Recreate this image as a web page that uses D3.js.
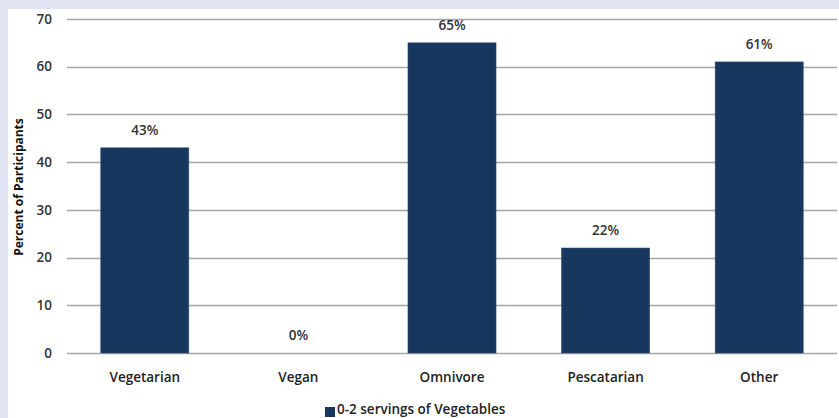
<!DOCTYPE html>
<html>
<head>
<meta charset="utf-8">
<script src="https://cdn.jsdelivr.net/npm/d3@7"></script>
<style>
  body { margin: 0; }
  svg { display: block; font-family: "Open Sans", sans-serif; }
</style>
</head>
<body>
<script>
const width = 839;
const height = 418;

const categories = ['Vegetarian', 'Vegan', 'Omnivore', 'Pescatarian', 'Other'];
const values = [43, 0, 65, 22, 61];
const yTicks = [0, 10, 20, 30, 40, 50, 60, 70];
const seriesName = '0-2 servings of Vegetables';

const barColor = '#17375e';
const textColor = '#333';

const margin = { top: 19, right: 3, bottom: 65, left: 68 };

const x = d3.scaleBand()
  .domain(categories)
  .range([margin.left, width - margin.right])
  .paddingInner(0.427)
  .paddingOuter(0.2135);

const y = d3.scaleLinear()
  .domain([0, 70])
  .range([height - margin.bottom, margin.top]);

const svg = d3.select('body')
  .append('svg')
  .attr('width', width)
  .attr('height', height);

// lavender frame, white panel
svg.append('rect')
  .attr('width', width)
  .attr('height', height)
  .attr('fill', '#e0e3f2');

svg.append('rect')
  .attr('x', 8)
  .attr('y', 9)
  .attr('width', width - 8)
  .attr('height', height - 9)
  .attr('fill', '#fff');

// gridlines
svg.append('g')
  .selectAll('line')
  .data(yTicks)
  .join('line')
    .attr('x1', margin.left - 1)
    .attr('x2', width - 2)
    .attr('y1', d => Math.round(y(d)) + 0.5)
    .attr('y2', d => Math.round(y(d)) + 0.5)
    .attr('stroke', '#a6a6a6')
    .attr('stroke-width', 1.5);

// y axis labels
svg.append('g')
  .attr('font-size', 13.5)
  .attr('font-weight', 600)
  .attr('fill', textColor)
  .attr('text-anchor', 'end')
  .selectAll('text')
  .data(yTicks)
  .join('text')
    .attr('x', 52)
    .attr('y', d => y(d))
    .attr('dy', '0.35em')
    .text(d => d);

svg.append('text')
  .attr('transform', `translate(23,${(y(0) + y(70)) / 2 + 1}) rotate(-90)`)
  .attr('text-anchor', 'middle')
  .attr('font-size', 12)
  .attr('font-weight', 'bold')
  .attr('fill', '#111')
  .text('Percent of Participants');

// bars
const data = categories.map((c, i) => ({ category: c, value: values[i] }));

svg.append('g')
  .selectAll('rect')
  .data(data)
  .join('rect')
    .attr('x', d => x(d.category))
    .attr('y', d => y(d.value))
    .attr('width', x.bandwidth())
    .attr('height', d => y(0) - y(d.value))
    .attr('fill', barColor)
    .attr('stroke', '#2c4a72')
    .attr('stroke-width', 0.6);

// value labels
svg.append('g')
  .attr('font-size', 13.5)
  .attr('font-weight', 600)
  .attr('fill', textColor)
  .attr('text-anchor', 'middle')
  .selectAll('text')
  .data(data)
  .join('text')
    .attr('x', d => x(d.category) + x.bandwidth() / 2)
    .attr('y', d => y(d.value) - 13)
    .text(d => d.value + '%');

// category labels
svg.append('g')
  .attr('font-size', 13.5)
  .attr('font-weight', 600)
  .attr('fill', '#222')
  .attr('text-anchor', 'middle')
  .selectAll('text')
  .data(categories)
  .join('text')
    .attr('x', d => x(d) + x.bandwidth() / 2)
    .attr('y', 382)
    .text(d => d);

// legend
const legend = svg.append('g');
legend.append('rect')
  .attr('x', 325)
  .attr('y', 407)
  .attr('width', 10)
  .attr('height', 10)
  .attr('fill', barColor);
legend.append('text')
  .attr('x', 337)
  .attr('y', 414)
  .attr('font-size', 13.5)
  .attr('font-weight', 600)
  .attr('fill', '#222')
  .text(seriesName);
</script>
</body>
</html>
